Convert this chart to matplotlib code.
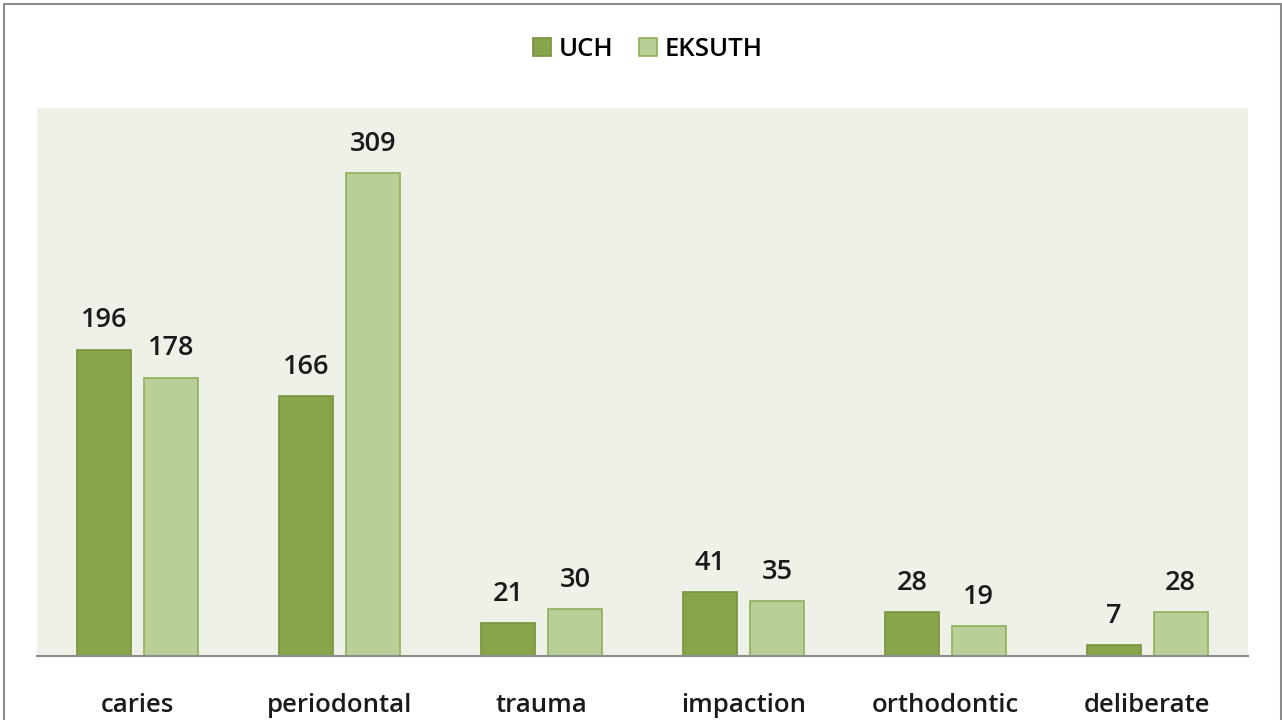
import numpy as np
import matplotlib.pyplot as plt
from matplotlib.patches import Rectangle

categories = ["caries", "periodontal", "trauma", "impaction", "orthodontic", "deliberate"]
uch = [196, 166, 21, 41, 28, 7]
eksuth = [178, 309, 30, 35, 19, 28]

UCH_COLOR = "#88a54c"
UCH_EDGE = "#76933c"
EKS_COLOR = "#b9cf97"
EKS_EDGE = "#8fb05a"

plt.rcParams["font.family"] = ["Open Sans", "DejaVu Sans"]

fig = plt.figure(figsize=(12.82, 7.2), dpi=100)
fig.patches.append(Rectangle((4 / 1282, -0.1), 1277 / 1282, (1 - 4 / 720) + 0.1,
                             transform=fig.transFigure, fill=False,
                             edgecolor="#8c8c8c", linewidth=1.5))

ax = fig.add_axes([37 / 1282, 1 - 656 / 720, 1211 / 1282, 548 / 720])
ax.set_facecolor("#eef1e8")

x = np.arange(len(categories))
w = 0.268
off = 0.166
b1 = ax.bar(x - off, uch, w, color=UCH_COLOR, edgecolor=UCH_EDGE, linewidth=1.2, label="UCH")
b2 = ax.bar(x + off, eksuth, w, color=EKS_COLOR, edgecolor=EKS_EDGE, linewidth=1.2, label="EKSUTH")

for bars, vals in ((b1, uch), (b2, eksuth)):
    for r, v in zip(bars, vals):
        ax.annotate(str(v), (r.get_x() + r.get_width() / 2, v), xytext=(0, 11),
                    textcoords="offset points", ha="center", va="bottom",
                    fontsize=19.5, fontweight="semibold", color="#1a1a1a")

ax.set_xlim(-0.5, len(categories) - 0.5)
ax.set_ylim(0, 350.5)
for s in ("top", "right", "left"):
    ax.spines[s].set_visible(False)
ax.spines["bottom"].set_color("#8c8c8c")
ax.spines["bottom"].set_linewidth(1.5)
ax.set_yticks([])
ax.set_xticks(x)
ax.set_xticklabels(categories, fontsize=18.5, fontweight="semibold", color="#1a1a1a")
ax.tick_params(axis="x", length=0, pad=27)

fig.legend(handles=[b1, b2], loc="center", bbox_to_anchor=(648 / 1282, 1 - 49 / 720),
           ncol=2, frameon=False, handlelength=0.7, handleheight=0.7,
           handletextpad=0.3, columnspacing=1.0,
           prop={"weight": "semibold", "size": 18.5})

fig.savefig("out.png", dpi=100)
